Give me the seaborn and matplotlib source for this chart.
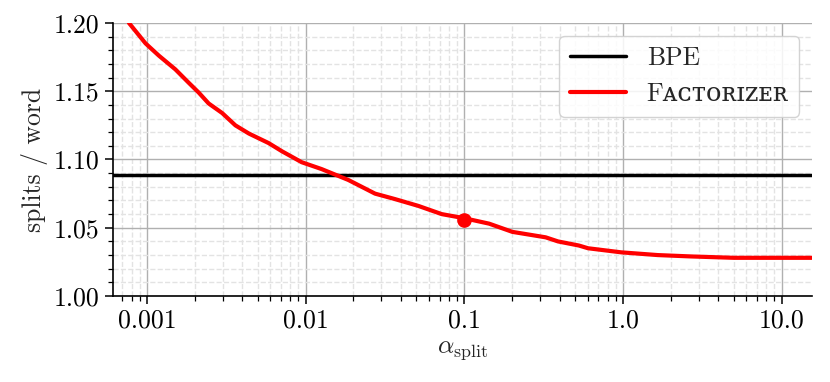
import numpy as np
import pandas as pd
import matplotlib
matplotlib.use("Agg")
import matplotlib.pyplot as plt
from matplotlib import ticker
import seaborn as sns

# values
alpha = [0.00077, 0.00098, 0.00119, 0.00151, 0.00184, 0.00212, 0.00245, 0.00298,
         0.00361, 0.00439, 0.00585, 0.0071, 0.00945, 0.0126, 0.0186, 0.0274,
         0.0366, 0.0514, 0.0721, 0.1, 0.1436, 0.201, 0.326, 0.39, 0.528, 0.603,
         0.977, 1.66, 2.69, 5.0, 10.0, 15.5]
splits = [1.200, 1.185, 1.176, 1.166, 1.156, 1.149, 1.141, 1.134,
          1.125, 1.119, 1.112, 1.106, 1.098, 1.093, 1.085, 1.075,
          1.071, 1.066, 1.060, 1.057, 1.053, 1.047, 1.043, 1.040, 1.037, 1.035,
          1.032, 1.030, 1.029, 1.028, 1.028, 1.028]
bpe_value = 1.089
chosen_alpha = [0.1]
chosen_splits = [1.056]
x_ticks = [0.001, 0.01, 0.1, 1.0, 10.0]
x_tick_labels = ["0.001", "0.01", "0.1", "1.0", "10.0"]
y_ticks = [1.00, 1.05, 1.10, 1.15, 1.20]

sns.set_style("ticks")
plt.rcParams['font.family'] = ['cmr10', 'DejaVu Serif']
plt.rcParams['mathtext.fontset'] = 'cm'
plt.rcParams['axes.formatter.use_mathtext'] = True
plt.rcParams['axes.unicode_minus'] = False
fs = 18.5

df = pd.DataFrame({'alpha': alpha, 'splits': splits})

fig, ax = plt.subplots(figsize=(8.3, 3.82), dpi=100)
fig.subplots_adjust(left=0.136, right=0.978, top=0.940, bottom=0.225)

ax.axhline(bpe_value, color='black', lw=2.5, label='BPE', zorder=3)
sns.lineplot(data=df, x='alpha', y='splits', color='red', lw=3.0,
             label='F\u1d00\u1d04\u1d1b\u1d0f\u0280\u026a\u1d22\u1d07\u0280', ax=ax, zorder=4)
ax.plot(chosen_alpha, chosen_splits, 'o', color='red', ms=9.5, zorder=5)

ax.set_xscale('log')
ax.set_xlim(0.00061, 15.5)
ax.set_ylim(1.0, 1.2)
ax.set_xticks(x_ticks)
ax.set_xticklabels(x_tick_labels)
ax.xaxis.set_minor_locator(ticker.LogLocator(base=10, subs=np.arange(2, 10)))
ax.xaxis.set_minor_formatter(ticker.NullFormatter())
ax.set_yticks(y_ticks)
ax.yaxis.set_major_formatter(ticker.FormatStrFormatter('%.2f'))
ax.yaxis.set_minor_locator(ticker.MultipleLocator(0.01))

ax.grid(which='major', color='#b0b0b0', lw=1.0, zorder=0)
ax.grid(which='minor', color='#e3e3e3', lw=1.0, ls='--', zorder=0)
ax.set_axisbelow(True)

for s in ['top', 'right']:
    ax.spines[s].set_visible(False)
for s in ['left', 'bottom']:
    ax.spines[s].set_color('black')
    ax.spines[s].set_linewidth(1.2)
ax.tick_params(which='major', direction='out', length=6, width=1.1, labelsize=fs, colors='black')
ax.tick_params(which='minor', direction='out', length=3.5, width=0.9, colors='black')

ax.set_xlabel(r'$\alpha_{\mathrm{split}}$', fontsize=fs)
ax.set_ylabel('splits / word', fontsize=fs)

leg = ax.legend(loc='upper right', fontsize=fs, frameon=True, fancybox=True,
                framealpha=0.85, edgecolor='#cccccc', borderaxespad=0.5,
                handlelength=2.2)
for t in leg.get_texts():
    t.set_family(['cmr10', 'DejaVu Serif'])

fig.savefig('out.png', dpi=100)
